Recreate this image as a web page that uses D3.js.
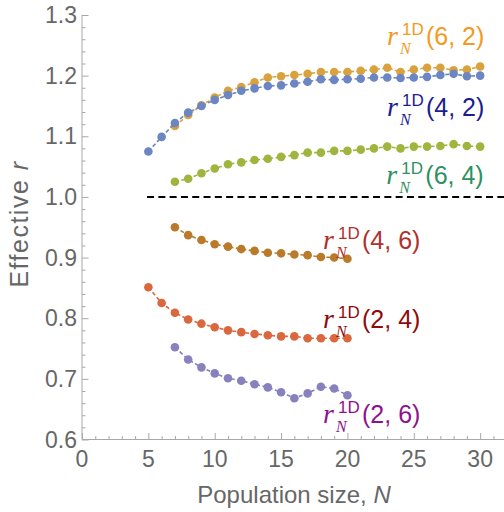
<!DOCTYPE html>
<html>
<head>
<meta charset="utf-8">
<script src="https://cdn.jsdelivr.net/npm/d3@7"></script>
<style>
  html, body { margin: 0; padding: 0; background: #fff; }
  svg { display: block; }
</style>
</head>
<body>
<div id="chart"></div>
<script>
// Effective r vs population size N, six (a,b) parameter combos

// x values
const N_5to30 = d3.range(5, 31);
const N_7to30 = d3.range(7, 31);
const N_5to20 = d3.range(5, 21);
const N_7to20 = d3.range(7, 21);

// series values
const r62 = [1.117, 1.135, 1.151, 1.164, 1.175, 1.181, 1.189, 1.197, 1.199, 1.201, 1.203, 1.206,
  1.206, 1.206, 1.208, 1.210, 1.213, 1.206, 1.210, 1.213, 1.213, 1.209, 1.210, 1.215];
const r42 = [1.075, 1.099, 1.122, 1.139, 1.150, 1.160, 1.168, 1.175, 1.179, 1.183, 1.184, 1.187,
  1.190, 1.194, 1.193, 1.194, 1.195, 1.197, 1.197, 1.196, 1.197, 1.198, 1.201, 1.203, 1.199, 1.200];
const r64 = [1.025, 1.030, 1.039, 1.047, 1.054, 1.057, 1.061, 1.063, 1.066, 1.069, 1.073, 1.073,
  1.076, 1.076, 1.078, 1.080, 1.083, 1.080, 1.083, 1.083, 1.084, 1.087, 1.084, 1.083];
const r46 = [0.950, 0.937, 0.929, 0.922, 0.918, 0.914, 0.911, 0.908, 0.907, 0.905, 0.904, 0.901, 0.900, 0.898];
const r24 = [0.851, 0.825, 0.809, 0.798, 0.791, 0.785, 0.780, 0.777, 0.774, 0.772, 0.770, 0.770,
  0.767, 0.767, 0.767, 0.767];
const r26 = [0.752, 0.732, 0.719, 0.709, 0.701, 0.697, 0.691, 0.686, 0.678, 0.668, 0.676, 0.687, 0.684, 0.673];

const seriesNames = ['(6, 2)', '(4, 2)', '(6, 4)', '(4, 6)', '(2, 4)', '(2, 6)'];
const seriesN = [N_7to30, N_5to30, N_7to30, N_7to20, N_5to20, N_7to20];
const seriesR = [r62, r42, r64, r46, r24, r26];

const xTicks = [0, 5, 10, 15, 20, 25, 30];
const yTicks = [0.6, 0.7, 0.8, 0.9, 1.0, 1.1, 1.2, 1.3];
const refLevel = 1.0;

// styling
const dotColors = ['#d9a23c', '#6b86c2', '#9fb53e', '#b97a2a', '#da673d', '#8782bd'];
const labelColors = ['#f39a1e', '#1c1c8e', '#2f9060', '#b0302c', '#8f0a0a', '#8e128e'];
// label anchor in data coords (N, r) of main-text baseline
const labelPos = [[22.98, 1.2505], [22.98, 1.1335], [22.93, 1.022], [18.16, 0.9135], [18.16, 0.784], [18.16, 0.628]];

const W = 504, H = 512;
const svg = d3.select('#chart').append('svg').attr('width', W).attr('height', H);

const x = d3.scaleLinear().domain([0, 31.72]).range([82, 503]);
const y = d3.scaleLinear().domain([0.6, 1.3]).range([439.5, 15]);

const axisCol = '#a8a8a8', textCol = '#676767';
const sans = '"Liberation Sans", Arial, Helvetica, sans-serif';
const serif = '"Liberation Serif", "Times New Roman", serif';

// axes (Mathematica style: ticks pointing inward)
const gx = svg.append('g').attr('transform', `translate(0,${y(0.6)})`)
  .call(d3.axisTop(x).tickValues(d3.range(0, 32, 1)).tickSize(3.5).tickFormat(''));
gx.selectAll('.tick line').attr('stroke', axisCol);
gx.selectAll('.tick').filter(d => d % 5 === 0).select('line').attr('y2', -6.5);
gx.select('.domain').attr('stroke', axisCol).attr('d', `M${x(0)},0H${W}`);

const gy = svg.append('g').attr('transform', `translate(${x(0)},0)`)
  .call(d3.axisRight(y).tickValues(d3.range(60, 131, 2).map(v => v / 100)).tickSize(3.5).tickFormat(''));
gy.selectAll('.tick line').attr('stroke', axisCol);
gy.selectAll('.tick').filter(d => Math.abs(d * 10 - Math.round(d * 10)) < 1e-6).select('line').attr('x2', 6.5);
gy.select('.domain').attr('stroke', axisCol).attr('d', `M0,${y(0.6)}V${y(1.3)}`);

// tick labels
svg.append('g').selectAll('text').data(xTicks).join('text')
  .attr('x', d => x(d)).attr('y', 467).attr('text-anchor', 'middle')
  .attr('font-family', sans).attr('font-size', 23).attr('fill', textCol).text(d => d);
svg.append('g').selectAll('text').data(yTicks).join('text')
  .attr('x', 77).attr('y', d => y(d) + 8).attr('text-anchor', 'end')
  .attr('font-family', sans).attr('font-size', 23).attr('fill', textCol).text(d => d.toFixed(1));

// axis titles
const xt = svg.append('text').attr('x', 294).attr('y', 503).attr('text-anchor', 'middle')
  .attr('font-family', sans).attr('font-size', 24).attr('fill', textCol);
xt.append('tspan').text('Population size, ');
xt.append('tspan').attr('font-style', 'italic').text('N');
const yt = svg.append('text').attr('transform', 'translate(28,224) rotate(-90)').attr('text-anchor', 'middle')
  .attr('font-family', sans).attr('font-size', 25).attr('letter-spacing', 1.5).attr('fill', textCol);
yt.append('tspan').text('Effective ');
yt.append('tspan').attr('font-style', 'italic').text('r');

// reference line at r = 1
svg.append('line').attr('x1', x(4.9)).attr('x2', W).attr('y1', y(refLevel)).attr('y2', y(refLevel))
  .attr('stroke', '#000').attr('stroke-width', 2).attr('stroke-dasharray', '7,4.3');

// series
const line = d3.line().x(d => x(d[0])).y(d => y(d[1]));
seriesNames.forEach((name, i) => {
  const pts = seriesN[i].map((n, j) => [n, seriesR[i][j]]);
  const g = svg.append('g');
  g.append('path').datum(pts).attr('d', line).attr('fill', 'none')
    .attr('stroke', dotColors[i]).attr('stroke-width', 1.6).attr('stroke-dasharray', '4,2.5');
  g.selectAll('circle').data(pts).join('circle')
    .attr('cx', d => x(d[0])).attr('cy', d => y(d[1])).attr('r', 4.3)
    .attr('fill', dotColors[i]);
});

// series labels  r_N^{1D}(a, b), one text element each
seriesNames.forEach((name, i) => {
  const lx = x(labelPos[i][0]), ly = y(labelPos[i][1]);
  const t = svg.append('text').attr('fill', labelColors[i]);
  t.append('tspan').attr('x', lx).attr('y', ly).attr('font-family', serif).attr('font-style', 'italic')
    .attr('font-size', 28).text('r');
  t.append('tspan').attr('x', lx + 15).attr('y', ly - 10).attr('font-family', sans)
    .attr('font-size', 17).text('1D');
  t.append('tspan').attr('x', lx + 13).attr('y', ly + 9).attr('font-family', serif).attr('font-style', 'italic')
    .attr('font-size', 16).text('N');
  t.append('tspan').attr('x', lx + 39).attr('y', ly).attr('font-family', sans)
    .attr('font-size', 25).text(name);
});
</script>
</body>
</html>
